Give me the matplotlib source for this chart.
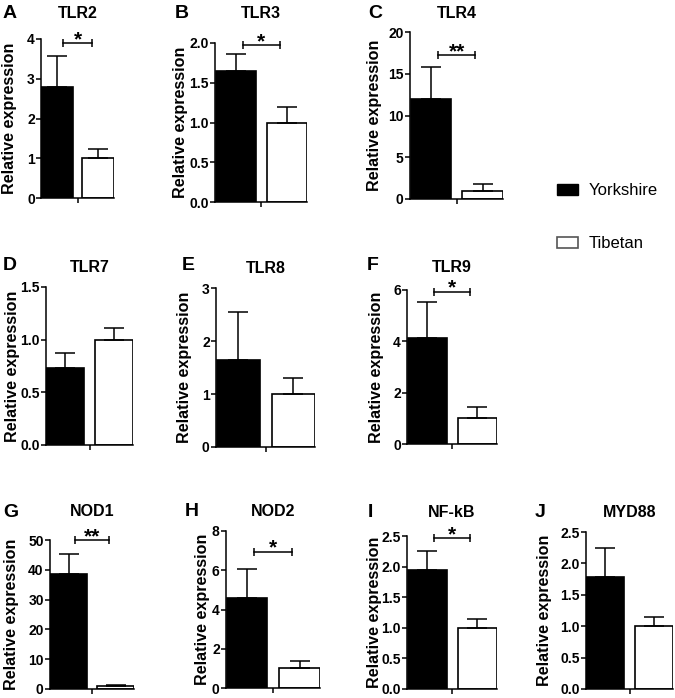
import numpy as np
import matplotlib
matplotlib.use('Agg')
import matplotlib.pyplot as plt
from matplotlib.patches import Patch
from matplotlib.ticker import MultipleLocator, FormatStrFormatter
from matplotlib.transforms import blended_transform_factory

plt.rcParams['font.family'] = ['Liberation Sans', 'DejaVu Sans']
plt.rcParams['font.weight'] = 'bold'

# data (mean +/- SEM, Tibetan normalised to 1)
genes = ['TLR2', 'TLR3', 'TLR4', 'TLR7', 'TLR8', 'TLR9', 'NOD1', 'NOD2', 'NF-kB', 'MYD88']
letters = ['A', 'B', 'C', 'D', 'E', 'F', 'G', 'H', 'I', 'J']
yorkshire_mean = [2.80, 1.65, 12.0, 0.73, 1.65, 4.14, 38.7, 4.59, 1.95, 1.79]
yorkshire_err = [0.76, 0.21, 3.76, 0.14, 0.89, 1.38, 6.6, 1.48, 0.31, 0.46]
tibetan_mean = [1.0, 1.0, 1.0, 1.0, 1.0, 1.0, 1.0, 1.0, 1.0, 1.0]
tibetan_err = [0.24, 0.20, 0.8, 0.11, 0.30, 0.45, 0.4, 0.38, 0.14, 0.15]
y_max = [4, 2.0, 20, 1.5, 3, 6, 50, 8, 2.5, 2.5]
y_step = [1, 0.5, 5, 0.5, 1, 2, 10, 2, 0.5, 0.5]
stars = ['*', '*', '**', '', '', '*', '**', '*', '*', '']
bracket_y = [3.89, 1.97, 17.2, 0, 0, 5.93, 50, 6.94, 2.47, 0]
groups = ['Yorkshire', 'Tibetan']

W, H = 675, 698

# panel boxes in pixels: left, right, top, bottom
boxes = [
    (41, 114, 39, 198), (215, 307, 43, 202), (410, 503, 32, 199),
    (46, 133, 287, 445), (216, 315, 288, 447), (407, 497, 290, 444),
    (50, 134, 540, 689), (226, 320, 531, 688), (407, 497, 536, 689), (586, 673, 532, 689),
]
ylabel_x = [10, 180, 375, 13, 185, 377, 12, 203, 374, 545]
title_base = [18, 18, 18, 272, 273, 272, 516, 516, 517, 517]
letter_x = [3, 175, 368, 3, 182, 367, 3, 185, 368, 535]
letter_base = [18, 18, 18, 270, 270, 270, 517, 516, 517, 517]

fig = plt.figure(figsize=(W / 100, H / 100), dpi=100)

for i, gene in enumerate(genes):
    l, r, t, b = boxes[i]
    ax = fig.add_axes([l / W, 1 - b / H, (r - l) / W, (b - t) / H])

    ax.bar(0, yorkshire_mean[i], width=0.78, color='black', edgecolor='black', linewidth=1.2)
    ax.bar(1, tibetan_mean[i], width=0.78, color='white', edgecolor='black', linewidth=1.2)
    ax.errorbar([0, 1], [yorkshire_mean[i], tibetan_mean[i]],
                yerr=[[0, 0], [yorkshire_err[i], tibetan_err[i]]],
                fmt='none', ecolor='black', elinewidth=1.1, capsize=7, capthick=1.1, zorder=1)

    if stars[i]:
        yb = bracket_y[i]
        ax.plot([0.14, 0.86], [yb, yb], color='black', lw=1.1, clip_on=False)
        ax.plot([0.14, 0.86], [yb, yb], ls='none', marker='|', ms=6, mew=1.1,
                color='black', clip_on=False)
        ax.annotate(stars[i], (0.5, yb), xytext=(0, -1.5), textcoords='offset points',
                    ha='center', va='baseline', fontsize=15, fontweight='bold',
                    annotation_clip=False)

    ax.set_xlim(-0.40, 1.39)
    ax.set_ylim(0, y_max[i])
    ax.set_xticks([0.5])
    ax.set_xticklabels([])
    ax.yaxis.set_major_locator(MultipleLocator(y_step[i]))
    if y_step[i] < 1:
        ax.yaxis.set_major_formatter(FormatStrFormatter('%.1f'))
    else:
        ax.yaxis.set_major_formatter(FormatStrFormatter('%d'))
    ax.tick_params(axis='both', length=3.5, width=1.1, pad=1, labelsize=10)
    for lab in ax.get_yticklabels():
        lab.set_fontweight('bold')
    for side in ['top', 'right']:
        ax.spines[side].set_visible(False)
    for side in ['left', 'bottom']:
        ax.spines[side].set_linewidth(1.1)

    ax.set_ylabel('Relative expression', fontsize=11.6, fontweight='bold', va='center')
    ax.yaxis.set_label_coords(ylabel_x[i] / W, 0.5,
                              transform=blended_transform_factory(fig.transFigure, ax.transAxes))

    ax.text(0.5, 1 - title_base[i] / H, gene,
            transform=blended_transform_factory(ax.transAxes, fig.transFigure),
            ha='center', va='baseline', fontsize=11.5, fontweight='bold')
    fig.text(letter_x[i] / W, 1 - letter_base[i] / H, letters[i], ha='left', va='baseline',
             fontsize=14, fontweight='bold')

handles = [Patch(facecolor='black', edgecolor='black'),
           Patch(facecolor='white', edgecolor='#555555', linewidth=1.2)]
fig.legend(handles, groups, loc='upper left', bbox_to_anchor=(557 / W, 1 - 183 / H),
           frameon=False, borderpad=0, borderaxespad=0, handlelength=1.26, handleheight=0.66,
           handletextpad=0.66, labelspacing=2.3, prop={'size': 12, 'weight': 'normal'})

fig.savefig('out.png', dpi=100)
